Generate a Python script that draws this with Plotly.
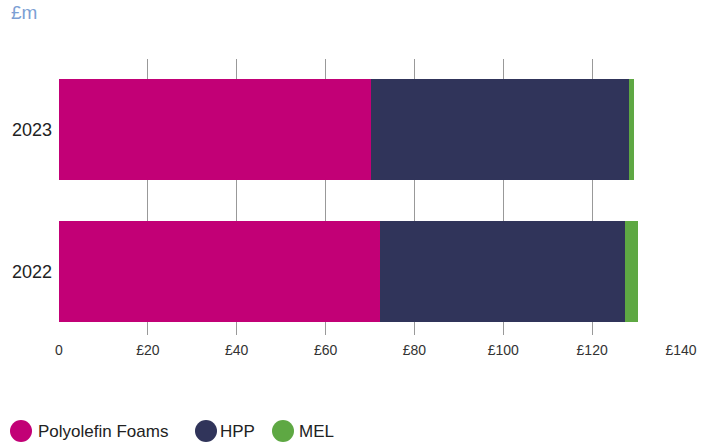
import plotly.graph_objects as go

years = ["2022", "2023"]
series_names = ["Polyolefin Foams", "HPP", "MEL"]
polyolefin = [72.2, 70.2]
hpp = [55.2, 58.1]
mel = [2.9, 1.1]
colors = ["#c20076", "#30345a", "#5ea843"]
tick_vals = [0, 20, 40, 60, 80, 100, 120, 140]
tick_text = ["0", "£20", "£40", "£60", "£80", "£100", "£120", "£140"]

# plot area in pixels: x 59..681, y 59..335
L, R, T, B = 59, 681, 59, 335
W, H = R - L, B - T


def px(xp):
    return (xp - L) / W


def py(yp):
    return (B - yp) / H


fig = go.Figure()
for name, vals, col in zip(series_names, [polyolefin, hpp, mel], colors):
    fig.add_trace(go.Bar(y=years, x=vals, orientation="h", name=name,
                         marker=dict(color=col, line=dict(width=0)),
                         showlegend=False))

font = "Liberation Sans, Arial, Helvetica, sans-serif"

# manual legend (circle + label)
legend_circle_x = [21, 206, 283]
legend_text_x = [36, 218, 297]
shapes = []
annotations = []
for name, col, cx, tx in zip(series_names, colors, legend_circle_x, legend_text_x):
    shapes.append(dict(type="circle", xref="paper", yref="paper",
                       xsizemode="pixel", ysizemode="pixel",
                       xanchor=px(cx), yanchor=py(431),
                       x0=-11, x1=11, y0=-11, y1=11,
                       fillcolor=col, line=dict(width=0)))
    annotations.append(dict(text=name, xref="paper", yref="paper",
                            x=px(tx), y=py(431), xanchor="left", yanchor="middle",
                            showarrow=False,
                            font=dict(size=17, color="#222222", family=font)))
annotations.append(dict(text="£m", xref="paper", yref="paper",
                        x=px(9), y=py(13), xanchor="left", yanchor="middle",
                        showarrow=False, font=dict(size=19, color="#7c9fd4", family=font)))

fig.update_layout(
    width=712, height=444,
    margin=dict(l=L, r=712 - R, t=T, b=444 - B),
    barmode="stack", bargap=0.286,
    plot_bgcolor="white", paper_bgcolor="white",
    font=dict(family=font, color="#333333"),
    showlegend=False,
    xaxis=dict(range=[0, 140], tickvals=tick_vals, ticktext=tick_text,
               showgrid=True, gridcolor="#999999", gridwidth=1,
               zeroline=False, showline=False,
               ticks="", tickfont=dict(size=14, color="#333333"),
               ticklabelstandoff=5, fixedrange=True),
    yaxis=dict(range=[-0.45, 1.5], showgrid=False, zeroline=False,
               showline=False, ticks="", tickfont=dict(size=18, color="#222222"),
               ticklabelstandoff=6, fixedrange=True),
    shapes=shapes,
    annotations=annotations,
)
fig.write_html("out.html")
